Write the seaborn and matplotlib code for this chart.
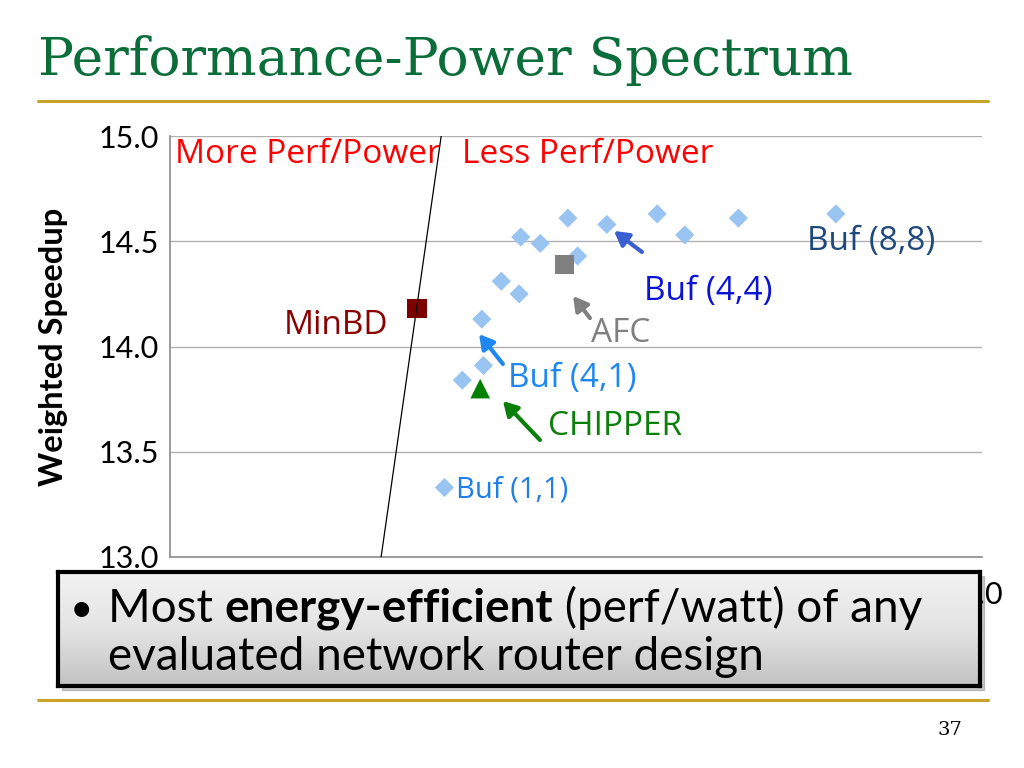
import matplotlib
matplotlib.use("Agg")
import matplotlib.pyplot as plt
import matplotlib.colors as mcolors
from matplotlib.patches import Rectangle
import numpy as np
import pandas as pd
import seaborn as sns

# buffered router configurations (light blue diamonds)
buf_power = [0.669, 0.680, 0.693, 0.692, 0.704, 0.715, 0.716, 0.728,
             0.745, 0.751, 0.769, 0.800, 0.817, 0.850, 0.910]
buf_speedup = [13.33, 13.84, 13.91, 14.13, 14.31, 14.25, 14.52, 14.49,
               14.61, 14.43, 14.58, 14.63, 14.53, 14.61, 14.63]

# highlighted designs
designs = ["MinBD", "AFC", "CHIPPER"]
design_power = [0.652, 0.743, 0.691]
design_speedup = [14.18, 14.39, 13.80]
design_colors = ["#7F0000", "#808080", "#008000"]
design_markers = ["s", "s", "^"]

# iso perf/power line
line_power = [0.630, 0.667]
line_speedup = [13.0, 15.0]

yticks = [13.0, 13.5, 14.0, 14.5, 15.0]
xticks = [0.5, 0.6, 0.7, 0.8, 0.9, 1.0]
# only the last x label peeks out from under the callout box
xticklabels = ["", "", "", "", "", "1.0"]

sns.set_theme(style="white")
plt.rcParams["font.family"] = ["Open Sans", "DejaVu Sans"]
plt.rcParams["text.color"] = "black"
plt.rcParams["axes.labelcolor"] = "black"
plt.rcParams["xtick.labelcolor"] = "black"
plt.rcParams["ytick.labelcolor"] = "black"

fig = plt.figure(figsize=(10.24, 7.68), dpi=100)
W, H = 1024, 768


def fx(px):
    return px / W


def fy(py):
    return 1 - py / H


ax = fig.add_axes([fx(170), fy(557), fx(982) - fx(170), fy(136) - fy(557)])

buf = pd.DataFrame({"power": buf_power, "speedup": buf_speedup})
sns.scatterplot(data=buf, x="power", y="speedup", marker="D", s=95,
                color="#99C4F2", edgecolor="none", ax=ax, zorder=3)
for name, px, py, c, m in zip(designs, design_power, design_speedup,
                              design_colors, design_markers):
    sns.scatterplot(x=[px], y=[py], marker=m, s=200, color=c,
                    edgecolor="none", ax=ax, zorder=4)

ax.plot(line_power, line_speedup, color="black", lw=0.9, zorder=5)

ax.set_xlim(0.5, 1.0)
ax.set_ylim(13.0, 15.0)
ax.set_yticks(yticks)
ax.set_yticklabels([f"{v:.1f}" for v in yticks], family="Lato", fontsize=22)
ax.set_xticks(xticks)
ax.set_xticklabels(xticklabels, family="Lato", fontsize=22)
ax.grid(axis="y", color="#B0B0B0", lw=1)
ax.tick_params(axis="y", length=6, color="#909090", width=1, pad=2)
ax.tick_params(axis="x", length=7, color="#909090", width=1, pad=10)
for s in ["top", "right"]:
    ax.spines[s].set_visible(False)
ax.spines["left"].set_color("#909090")
ax.spines["bottom"].set_color("#909090")
ax.set_xlabel("")
ax.set_ylabel("Weighted Speedup", family="Lato", fontweight="bold",
              fontsize=23.5, labelpad=22)

# labels and arrows
fs = 24
ax.text(0.503, 14.91, "More Perf/Power", color="#FF0000", fontsize=fs, va="center")
ax.text(0.680, 14.91, "Less Perf/Power", color="#FF0000", fontsize=fs, va="center")
ax.text(0.570, 14.10, "MinBD", color="#8B0000", fontsize=fs, va="center")
ax.text(0.892, 14.50, "Buf (8,8)", color="#1F497D", fontsize=fs, va="center")
ax.text(0.792, 14.26, "Buf (4,4)", color="#0A14D2", fontsize=fs, va="center")
ax.text(0.759, 14.06, "AFC", color="#808080", fontsize=fs, va="center")
ax.text(0.708, 13.85, "Buf (4,1)", color="#1E88F0", fontsize=fs, va="center")
ax.text(0.733, 13.62, "CHIPPER", color="#0A7F0A", fontsize=fs, va="center")
ax.text(0.676, 13.32, "Buf (1,1)", color="#1E7FE8", fontsize=21, va="center")

arrows = [((0.7734, 14.549), (0.7906, 14.449), "#3A5FD0"),
          ((0.7482, 14.240), (0.7586, 14.135), "#808080"),
          ((0.6903, 14.059), (0.7050, 13.917), "#1E88F0"),
          ((0.7050, 13.741), (0.7278, 13.556), "#0A7F0A")]
for head, tail, c in arrows:
    ax.annotate("", xy=head, xytext=tail,
                arrowprops=dict(arrowstyle="-|>,head_width=0.4,head_length=0.7",
                                color=c, lw=3, shrinkA=0, shrinkB=0))

# slide decorations
fig.text(fx(38), fy(60), "Performance-Power Spectrum", family="DejaVu Serif",
         fontsize=38.5, color="#0B6E3A", va="center", ha="left")
fig.add_artist(plt.Line2D([fx(38), fx(988)], [fy(101), fy(101)],
                          color="#C9A227", lw=2.2))
fig.add_artist(plt.Line2D([fx(38), fx(988)], [fy(700), fy(700)],
                          color="#C9A227", lw=2.2))
fig.text(fx(950), fy(730), "37", family="DejaVu Serif", fontsize=14,
         color="black", ha="center", va="center")

# callout box
fig.add_artist(Rectangle((fx(62), fy(690)), fx(922), fy(0) - fy(114),
                         transform=fig.transFigure, color="#666666",
                         alpha=0.35, zorder=8))
bax = fig.add_axes([fx(58), fy(686), fx(922), fy(0) - fy(114)], zorder=9)
grad = np.linspace(0, 1, 100).reshape(-1, 1)
cmap = mcolors.LinearSegmentedColormap.from_list("g", ["#F2F2F2", "#E4E4E4", "#C2C2C2"])
bax.imshow(grad, aspect="auto", cmap=cmap, extent=[0, 1, 0, 1])
bax.set_xticks([])
bax.set_yticks([])
for s in bax.spines.values():
    s.set_color("black")
    s.set_linewidth(3)

box_fs = 33
fig.canvas.draw()
renderer = fig.canvas.get_renderer()
parts = [("Most ", "normal"), ("energy-efficient", "bold"),
         (" (perf/watt) of any", "normal")]
xpos = fx(108)
for txt, wt in parts:
    t = fig.text(xpos, fy(622), txt, family="Lato", fontweight=wt,
                 fontsize=box_fs, va="baseline", ha="left", zorder=10,
                 color="black")
    bb = t.get_window_extent(renderer)
    xpos += bb.width / W
fig.text(fx(70), fy(622), "\u2022", family="Lato", fontsize=box_fs - 4,
         va="baseline", ha="left", zorder=10, color="black")
fig.text(fx(108), fy(670), "evaluated network router design", family="Lato",
         fontsize=box_fs, va="baseline", ha="left", zorder=10, color="black")

fig.savefig("out.png", dpi=100)
